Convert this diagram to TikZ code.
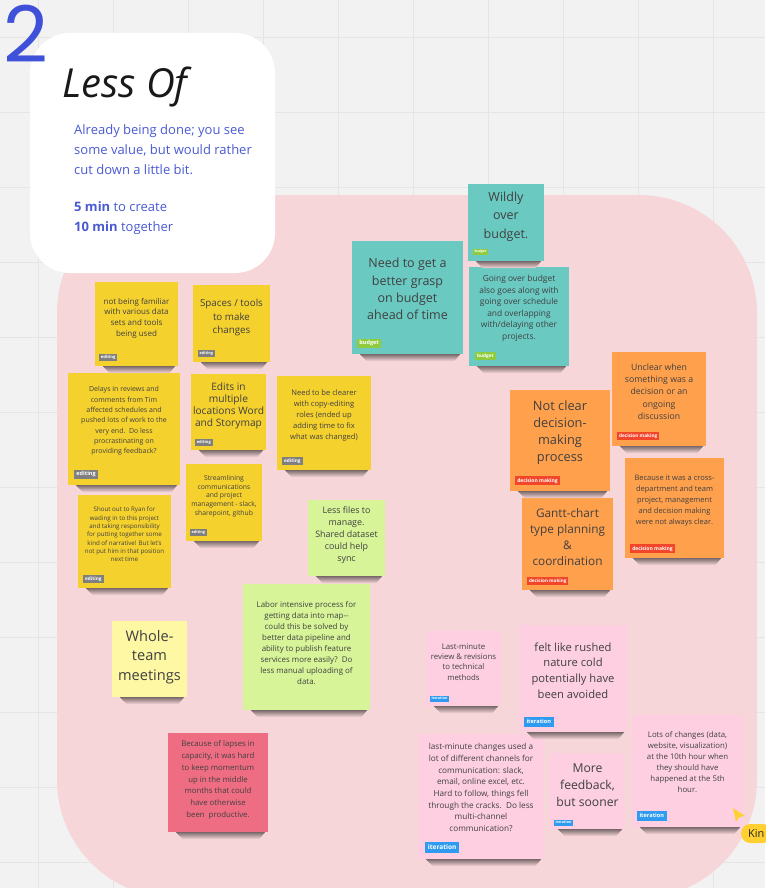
\documentclass[tikz,border=0pt]{standalone}
\usepackage{fontspec}
\setmainfont{Open Sans}
\newfontfamily\numfont{Poppins}

\definecolor{boardbg}{HTML}{F2F2F2}
\definecolor{gridline}{HTML}{E5E5E5}
\definecolor{pinkarea}{HTML}{F7D6D9}
\definecolor{numblue}{HTML}{3F51D8}
\definecolor{bodyblue}{HTML}{4A5AD3}
\definecolor{ylw}{HTML}{F5D12E}
\definecolor{lime}{HTML}{D7F598}
\definecolor{paleylw}{HTML}{FEF7A4}
\definecolor{redsticky}{HTML}{EF6D82}
\definecolor{tealsticky}{HTML}{6ACAC2}
\definecolor{orng}{HTML}{FFA04C}
\definecolor{pnk}{HTML}{FDCFE0}
\definecolor{tagedit}{HTML}{7F7F7F}
\definecolor{tagbudget}{HTML}{8FCB3E}
\definecolor{tagdecision}{HTML}{F2462A}
\definecolor{tagiter}{HTML}{2E9BF0}
\definecolor{cursorc}{HTML}{FFD02F}
\definecolor{notegray}{HTML}{404040}

\tikzset{
  note/.style={rectangle, inner sep=0pt},
  notetext/.style={align=center, inner sep=0pt, text=notegray},
  fsz/.style 2 args={font=\fontsize{#1}{#2}\selectfont},
  tag/.style={anchor=south west, inner xsep=#1*0.45pt, inner ysep=#1*0.4pt, text height=#1*0.72pt, text depth=#1*0.2pt,
    text=white, font=\fontsize{#1}{#1}\selectfont\bfseries},
}

\begin{document}
\begin{tikzpicture}[x=1pt, y=-1pt]
  \useasboundingbox (0,0) rectangle (765,888);
  % board
  \fill[boardbg] (0,0) rectangle (765,888);
  \foreach \gx in {38,113,...,713} \draw[gridline] (\gx,0) -- (\gx,888);
  \foreach \gy in {37,112,...,862} \draw[gridline] (0,\gy) -- (765,\gy);
  \fill[pinkarea, rounded corners=118pt] (57,195) rectangle (757,898);

  % header card
  \fill[white, rounded corners=40pt] (30,33) rectangle (275,273);
  \node[anchor=base west, inner sep=0pt, font=\numfont\fontsize{78}{78}\selectfont, text=numblue] (num) at (3,63) {2};
  \node[anchor=base west, inner sep=0pt, font=\itshape\fontsize{40}{40}\selectfont, text=black!90] (title) at (62,98) {Less Of};
  \node[anchor=north west, align=left, inner sep=0pt, font=\fontsize{13}{20}\selectfont, text=bodyblue] (intro) at (74,124)
    {Already being done; you see\\some value, but would rather\\cut down a little bit.};
  \node[anchor=north west, align=left, inner sep=0pt, font=\fontsize{13}{20}\selectfont, text=bodyblue] (timing) at (74,201)
    {\textbf{5 min} to create\\\textbf{10 min} together};

  % editing
  \node[note, fill=ylw, minimum width=83pt, minimum height=84pt] (fam) at (136.5,324) {};
  \node[notetext, fsz={8}{10.7}] (famtext) at ([yshift=6pt]fam.center) {not being familiar\\with various data\\sets and tools\\being used};
  \node[tag=4.2, fill=tagedit] (famtag) at ([shift={(4pt,5pt)}]fam.south west) {editing};

  \node[note, fill=ylw, minimum width=77pt, minimum height=77pt] (spc) at (231.5,323.5) {};
  \node[notetext, fsz={9.8}{13.3}] (spctext) at ([yshift=6pt]spc.center) {Spaces / tools\\to make\\changes};
  \node[tag=3.8, fill=tagedit] (spctag) at ([shift={(5pt,5pt)}]spc.south west) {editing};

  \node[note, fill=ylw, minimum width=112pt, minimum height=112pt] (dly) at (124,429) {};
  \node[notetext, fsz={7}{10.3}] (dlytext) at ([yshift=8pt]dly.center) {Delays in reviews and\\comments from Tim\\affected schedules and\\pushed lots of work to the\\very end.\ \ Do less\\procrastinating on\\providing feedback?};
  \node[tag=5.5, fill=tagedit] (dlytag) at ([shift={(6pt,6pt)}]dly.south west) {editing};

  \node[note, fill=ylw, minimum width=75pt, minimum height=76pt] (edt) at (228.5,412) {};
  \node[notetext, fsz={10.2}{12}] (edttext) at ([yshift=6pt]edt.center) {Edits in\\multiple\\locations Word\\and Storymap};
  \node[tag=4, fill=tagedit] (edttag) at ([shift={(4pt,4pt)}]edt.south west) {editing};

  \node[note, fill=ylw, minimum width=94pt, minimum height=94pt] (cpy) at (324,423) {};
  \node[notetext, fsz={7.6}{11}] (cpytext) at ([yshift=7pt]cpy.center) {Need to be clearer\\with copy-editing\\roles (ended up\\adding time to fix\\what was changed)};
  \node[tag=4.7, fill=tagedit] (cpytag) at ([shift={(5pt,5pt)}]cpy.south west) {editing};

  \node[note, fill=ylw, minimum width=76pt, minimum height=77pt] (str) at (224,502.5) {};
  \node[notetext, fsz={6.8}{8.7}] (strtext) at ([yshift=6.5pt]str.center) {Streamlining\\communications\\and project\\management - slack,\\sharepoint, github};
  \node[tag=3.8, fill=tagedit] (strtag) at ([shift={(4pt,5pt)}]str.south west) {editing};

  \node[note, fill=ylw, minimum width=93pt, minimum height=93pt] (ryn) at (124.5,541.5) {};
  \node[notetext, fsz={6.2}{8.3}] (ryntext) at ([yshift=7pt]ryn.center) {Shout out to Ryan for\\wading in to this project\\and taking responsibility\\for putting together some\\kind of narrative! But let's\\not put him in that position\\next time};
  \node[tag=4.7, fill=tagedit] (ryntag) at ([shift={(5pt,5pt)}]ryn.south west) {editing};

  % untagged
  \node[note, fill=lime, minimum width=77pt, minimum height=76pt] (fil) at (346.5,538) {};
  \node[notetext, fsz={8.9}{12}] (filtext) at ([yshift=2.5pt]fil.center) {Less files to\\manage.\\Shared dataset\\could help\\sync};

  \node[note, fill=lime, minimum width=127pt, minimum height=126pt] (lab) at (306.5,647) {};
  \node[notetext, fsz={7.9}{11}] (labtext) at ([yshift=3.5pt]lab.center) {Labor intensive process for\\getting data into map{-}{-}\\could this be solved by\\better data pipeline and\\ability to publish feature\\services more easily?\ \ Do\\less manual uploading of\\data.};

  \node[note, fill=paleylw, minimum width=75pt, minimum height=76pt] (whl) at (149.5,659) {};
  \node[notetext, fsz={14.6}{19.5}] (whltext) at ([yshift=2pt]whl.center) {Whole-\\team\\meetings};

  \node[note, fill=redsticky, minimum width=100pt, minimum height=99pt] (lap) at (218,782.5) {};
  \node[notetext, fsz={7.8}{11.7}] (laptext) at ([yshift=2.5pt]lap.center) {Because of lapses in\\capacity, it was hard\\to keep momentum\\up in the middle\\months that could\\have otherwise\\been\ \ productive.};

  % budget
  \node[note, fill=tealsticky, minimum width=76pt, minimum height=77pt] (wld) at (506,222.5) {};
  \node[notetext, fsz={12.5}{18.3}] (wldtext) at ([yshift=6pt]wld.center) {Wildly\\over\\budget.};
  \node[tag=3.4, fill=tagbudget] (wldtag) at ([shift={(5pt,6pt)}]wld.south west) {budget};

  \node[note, fill=tealsticky, minimum width=111pt, minimum height=113pt] (grp) at (407.5,297.5) {};
  \node[notetext, fsz={12.5}{17.3}] (grptext) at ([yshift=8.5pt]grp.center) {Need to get a\\better grasp\\on budget\\ahead of time};
  \node[tag=5.5, fill=tagbudget] (grptag) at ([shift={(5pt,6pt)}]grp.south west) {budget};

  \node[note, fill=tealsticky, minimum width=100pt, minimum height=99pt] (ovr) at (519,316.5) {};
  \node[notetext, fsz={8.4}{11.5}] (ovrtext) at ([yshift=8pt]ovr.center) {Going over budget\\also goes along with\\going over schedule\\and overlapping\\with/delaying other\\projects.};
  \node[tag=4.7, fill=tagbudget] (ovrtag) at ([shift={(6pt,6pt)}]ovr.south west) {budget};

  % decision making
  \node[note, fill=orng, minimum width=100pt, minimum height=101pt] (ncl) at (560,440.5) {};
  \node[notetext, fsz={12.8}{17.2}] (ncltext) at ([yshift=8pt]ncl.center) {Not clear\\decision-\\making\\process};
  \node[tag=5, fill=tagdecision] (ncltag) at ([shift={(5pt,6pt)}]ncl.south west) {decision making};

  \node[note, fill=orng, minimum width=94pt, minimum height=94pt] (unc) at (659,399) {};
  \node[notetext, fsz={8.7}{12.3}] (unctext) at ([yshift=7.5pt]unc.center) {Unclear when\\something was a\\decision or an\\ongoing\\discussion};
  \node[tag=4.7, fill=tagdecision] (unctag) at ([shift={(5pt,6pt)}]unc.south west) {decision making};

  \node[note, fill=orng, minimum width=99pt, minimum height=100pt] (crs) at (674.5,508) {};
  \node[notetext, fsz={7.5}{11}] (crstext) at ([yshift=7pt]crs.center) {Because it was a cross-\\department and team\\project, management\\and decision making\\were not always clear.};
  \node[tag=5, fill=tagdecision] (crstag) at ([shift={(5pt,5pt)}]crs.south west) {decision making};

  \node[note, fill=orng, minimum width=91pt, minimum height=92pt] (gnt) at (567.5,544) {};
  \node[notetext, fsz={11.8}{15.9}] (gnttext) at ([yshift=7pt]gnt.center) {Gantt-chart\\type planning\\\&\\coordination};
  \node[tag=4.6, fill=tagdecision] (gnttag) at ([shift={(5pt,5pt)}]gnt.south west) {decision making};

  % iteration
  \node[note, fill=pnk, minimum width=75pt, minimum height=75pt] (lst) at (463.5,668.5) {};
  \node[notetext, fsz={7.8}{10.2}] (lsttext) at ([yshift=6.5pt]lst.center) {Last-minute\\review \& revisions\\to technical\\methods};
  \node[tag=3.6, fill=tagiter] (lsttag) at ([shift={(4pt,4pt)}]lst.south west) {iteration};

  \node[note, fill=pnk, minimum width=108pt, minimum height=107pt] (rsh) at (573,678.5) {};
  \node[notetext, fsz={11.2}{15.7}] (rshtext) at ([yshift=8pt]rsh.center) {felt like rushed\\nature cold\\potentially have\\been avoided};
  \node[tag=5.6, fill=tagiter] (rshtag) at ([shift={(5pt,5pt)}]rsh.south west) {iteration};

  \node[note, fill=pnk, minimum width=126pt, minimum height=125pt] (chn) at (481,796.5) {};
  \node[notetext, fsz={8.2}{11.7}] (chntext) at ([yshift=9pt]chn.center) {last-minute changes used a\\lot of different channels for\\communication: slack,\\email, online excel, etc.\\Hard to follow, things fell\\through the cracks.\ \ Do less\\multi-channel\\communication?};
  \node[tag=6.5, fill=tagiter] (chntag) at ([shift={(7pt,6pt)}]chn.south west) {iteration};

  \node[note, fill=pnk, minimum width=75pt, minimum height=76pt] (fdb) at (587.5,791) {};
  \node[notetext, fsz={12.2}{16.7}] (fdbtext) at ([yshift=6pt]fdb.center) {More\\feedback,\\but sooner};
  \node[tag=3.6, fill=tagiter] (fdbtag) at ([shift={(4pt,3pt)}]fdb.south west) {iteration};

  \node[note, fill=pnk, minimum width=111pt, minimum height=112pt] (lot) at (687.5,771) {};
  \node[notetext, fsz={7.8}{11}] (lottext) at ([yshift=8.5pt]lot.center) {Lots of changes (data,\\website, visualization)\\at the 10th hour when\\they should have\\happened at the 5th\\hour.};
  \node[tag=5.6, fill=tagiter] (lottag) at ([shift={(5pt,6pt)}]lot.south west) {iteration};

  % shadows under the stickies
  \foreach \n in {fam,spc,dly,edt,cpy,str,ryn,fil,lab,whl,lap,wld,grp,ovr,ncl,unc,crs,gnt,lst,rsh,chn,fdb,lot}
    \shade[top color=pinkarea!50!black, bottom color=pinkarea]
      ([xshift=8pt]\n.south west) -- ([xshift=-3pt]\n.south east)
      -- ([xshift=-9pt,yshift=-7pt]\n.south east) -- ([xshift=15pt,yshift=-7pt]\n.south west) -- cycle;

  % cursor
  \fill[cursorc] (733,808) -- (745,816) -- (739,817) -- (736,822) -- cycle;
  \node[anchor=west, fill=cursorc, rounded corners=9pt, minimum height=19pt, inner xsep=7pt,
    font=\fontsize{11}{11}\selectfont, text=black!85] (kin) at (741,833.5) {Kin\hspace{30pt}};
\end{tikzpicture}
\end{document}
